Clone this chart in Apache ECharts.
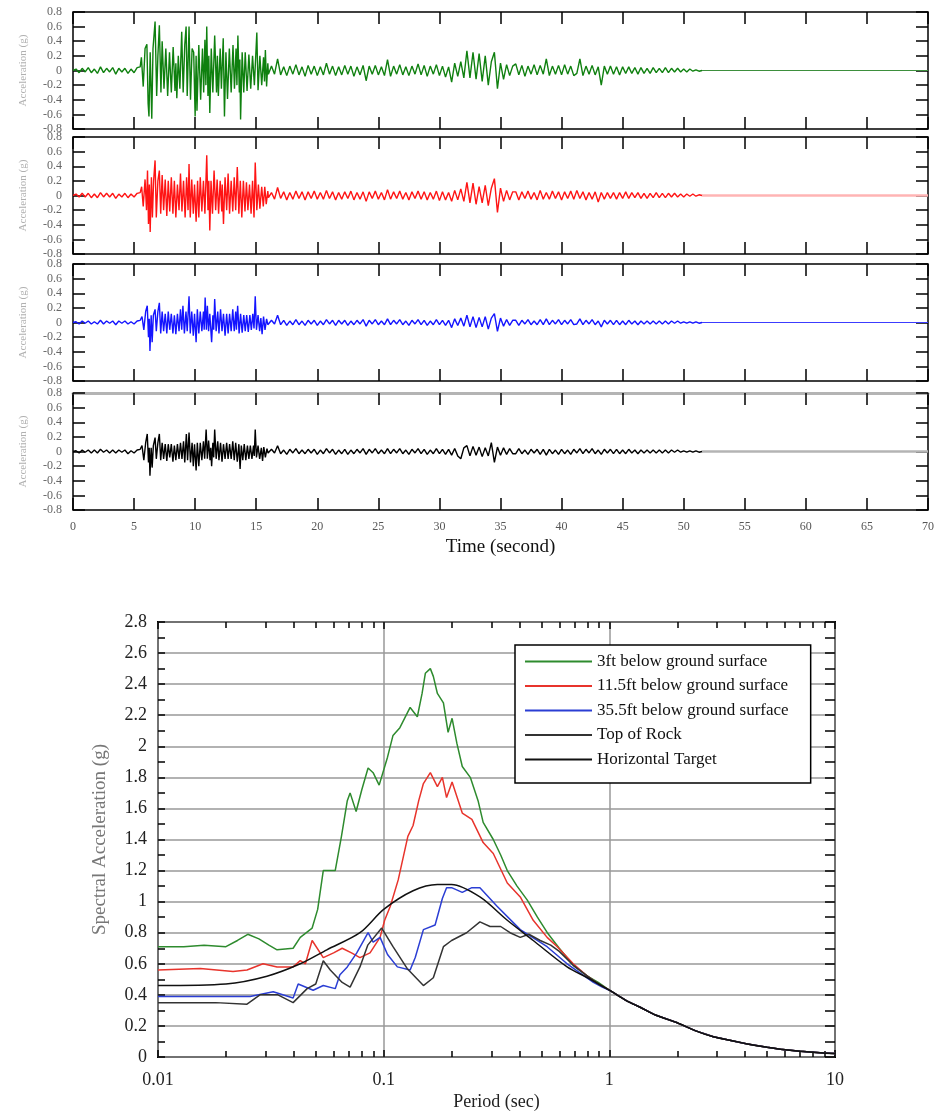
<!DOCTYPE html>
<html>
<head>
<meta charset="utf-8">
<title>Acceleration histories and response spectra</title>
<script src="https://cdn.jsdelivr.net/npm/echarts@6.0.0/dist/echarts.min.js"></script>
<style>
  html, body { margin: 0; padding: 0; background: #fff; }
  #chart { width: 938px; height: 1114px; }
</style>
</head>
<body>
<div id="chart"></div>
<script>
// ---- time histories (g) ----
// quiet part before the strong motion and the coda are sampled every 0.25 s,
// the strong part (5.5 - 16 s) is kept as [time, acceleration] pairs
const STEP = 0.25;
const PRE_START = 0;
const CODA_START = 16.25;
const END_TIME = 70;

const greenPre = [0, 0.02, -0.03, 0.03, -0.02, 0.04, -0.03, 0.02, -0.04, 0.05, -0.03, 0.03, -0.02, 0.04, -0.05, 0.03, -0.02, 0.03, -0.04, 0.02, -0.03, 0.04];
const greenStrong = [[5.5,0.05],[5.6,0.18],[5.75,-0.22],[5.9,0.3],[6.05,0.36],[6.15,-0.45],[6.22,-0.63],[6.32,0.25],[6.45,-0.66],[6.55,0.3],[6.72,0.67],[6.85,-0.35],[6.95,0.2],[7.07,0.62],[7.2,-0.3],[7.3,0.4],[7.45,-0.25],[7.6,0.3],[7.75,-0.35],[7.9,0.25],[8.05,-0.3],[8.2,0.32],[8.35,-0.28],[8.42,0.1],[8.5,-0.38],[8.62,0.2],[8.75,-0.25],[8.9,0.53],[9.02,-0.3],[9.15,0.35],[9.26,0.6],[9.35,-0.35],[9.5,0.6],[9.62,-0.4],[9.75,0.3],[9.88,0.25],[10.0,-0.63],[10.08,0.2],[10.15,-0.55],[10.3,0.35],[10.45,-0.4],[10.6,0.3],[10.7,-0.3],[10.8,0.42],[10.88,-0.2],[10.95,0.6],[11.05,-0.35],[11.12,0.2],[11.2,-0.58],[11.32,0.3],[11.45,-0.3],[11.6,0.48],[11.75,-0.3],[11.82,0.2],[11.9,-0.35],[12.05,0.3],[12.15,-0.25],[12.3,0.44],[12.4,-0.63],[12.52,0.25],[12.65,-0.39],[12.8,0.3],[12.95,-0.3],[13.1,0.35],[13.22,-0.25],[13.35,0.3],[13.42,-0.2],[13.5,0.48],[13.62,-0.3],[13.66,0.15],[13.72,-0.67],[13.85,0.25],[13.98,-0.3],[14.1,0.25],[14.25,-0.28],[14.4,0.22],[14.55,-0.25],[14.7,0.2],[14.85,-0.2],[15.05,0.52],[15.15,-0.27],[15.3,0.2],[15.45,-0.2],[15.6,0.18],[15.68,-0.15],[15.75,0.28],[15.85,-0.22],[15.95,0.1],[16.0,-0.05]];
const greenCoda = [
  0.06,-0.05,0.16,-0.06,0.05,-0.07,0.06,-0.05,0.08,-0.06,0.05,-0.08,0.07,-0.05,0.06,-0.07,
  0.05,-0.06,0.1,-0.05,0.06,-0.07,0.05,-0.06,0.07,-0.05,0.06,-0.08,0.05,-0.06,0.07,-0.14,
  0.06,-0.05,0.07,-0.06,0.05,-0.07,0.15,-0.08,0.06,-0.05,0.08,-0.06,0.05,-0.07,0.06,-0.05,
  0.09,-0.06,0.07,-0.08,0.06,-0.05,0.08,-0.07,0.06,-0.09,0.05,-0.16,0.1,-0.08,0.12,-0.1,
  0.27,-0.1,0.25,-0.12,0.23,-0.15,0.2,-0.2,0.12,0.25,-0.25,0.1,-0.12,0.08,-0.07,0.06,
  0.09,-0.06,0.07,-0.08,0.06,-0.05,0.08,-0.06,0.07,-0.05,0.16,-0.07,0.06,-0.05,0.07,-0.06,
  0.08,-0.05,0.06,-0.07,-0.04,0.16,-0.07,0.06,-0.05,0.07,-0.06,0.05,-0.2,0.06,-0.05,0.06,
  -0.05,0.05,-0.06,0.05,-0.04,0.05,-0.04,0.04,-0.05,0.04,-0.04,0.03,-0.04,0.04,-0.03,0.03,
  -0.03,0.04,-0.03,0.03,-0.02,0.03,-0.02,0.02,-0.02,0.02,-0.01,0.01,-0.01,0];

const redPre = [0, 0.02, -0.02, 0.03, -0.02, 0.03, -0.03, 0.02, -0.03, 0.04, -0.02, 0.03, -0.02, 0.03, -0.04, 0.02, -0.02, 0.03, -0.03, 0.02, -0.02, 0.03];
const redStrong = [[5.5,0.04],[5.62,0.12],[5.75,-0.15],[5.9,0.22],[6.02,-0.2],[6.1,0.34],[6.18,-0.39],[6.25,0.15],[6.32,-0.5],[6.42,0.25],[6.5,-0.3],[6.6,0.2],[6.72,0.48],[6.82,-0.3],[6.95,0.2],[7.07,0.34],[7.18,-0.25],[7.3,0.28],[7.42,-0.2],[7.55,0.22],[7.68,-0.28],[7.8,0.2],[7.92,-0.22],[8.05,0.25],[8.18,-0.25],[8.3,0.2],[8.42,-0.3],[8.55,0.15],[8.68,-0.2],[8.8,0.3],[8.92,-0.22],[9.05,0.2],[9.18,-0.3],[9.3,0.25],[9.42,-0.2],[9.5,0.43],[9.6,-0.3],[9.72,0.22],[9.85,-0.25],[9.95,0.15],[10.08,-0.36],[10.2,0.2],[10.3,-0.3],[10.42,0.25],[10.55,-0.22],[10.68,0.2],[10.8,-0.25],[10.95,0.55],[11.05,-0.2],[11.12,0.2],[11.2,-0.48],[11.3,0.2],[11.42,-0.25],[11.55,0.34],[11.68,-0.2],[11.8,0.22],[11.92,-0.25],[12.05,0.2],[12.18,-0.22],[12.22,0.15],[12.32,-0.39],[12.45,0.25],[12.58,-0.2],[12.7,0.3],[12.82,-0.25],[12.95,0.2],[13.08,-0.22],[13.2,0.25],[13.32,-0.2],[13.45,0.39],[13.58,-0.25],[13.7,0.2],[13.82,-0.3],[13.95,0.2],[14.08,-0.22],[14.2,0.18],[14.32,-0.2],[14.45,0.15],[14.58,-0.25],[14.7,0.2],[14.82,-0.3],[14.92,0.45],[15.05,-0.2],[15.18,0.15],[15.3,-0.18],[15.45,0.12],[15.58,-0.15],[15.7,0.12],[15.82,-0.12],[15.95,0.06],[16.0,-0.03]];
const redCoda = [
  0.04,-0.05,0.11,-0.04,0.05,-0.06,0.04,-0.05,0.06,-0.04,0.05,-0.06,0.05,-0.04,0.06,-0.05,
  0.04,-0.05,0.07,-0.04,0.05,-0.06,0.04,-0.05,0.05,-0.04,0.06,-0.06,0.04,-0.05,0.05,-0.08,
  0.05,-0.04,0.06,-0.05,0.04,-0.06,0.08,-0.05,0.05,-0.04,0.06,-0.05,0.04,-0.06,0.05,-0.04,
  0.06,-0.05,0.05,-0.06,0.04,-0.05,0.06,-0.07,0.05,-0.06,0.04,-0.08,0.07,-0.06,0.09,-0.08,
  0.18,-0.1,0.17,-0.12,0.12,-0.1,0.14,-0.14,0.1,0.23,-0.23,0.1,-0.08,0.07,-0.06,0.05,
  0.05,-0.06,0.05,-0.04,0.06,-0.05,0.04,-0.06,0.07,-0.05,0.04,-0.05,0.06,-0.04,0.05,-0.06,
  0.05,-0.04,0.06,-0.05,0.07,-0.04,0.05,-0.06,0.04,-0.05,0.05,-0.09,0.04,-0.05,0.04,-0.04,
  0.04,-0.05,0.04,-0.04,0.05,-0.04,0.04,-0.03,0.04,-0.04,0.03,-0.04,0.03,-0.03,0.04,-0.03,
  0.03,-0.03,0.03,-0.02,0.03,-0.02,0.02,-0.02,0.02,-0.01,0.02,-0.01,0.01,0];

const bluePre = [0, 0.01, -0.02, 0.02, -0.01, 0.02, -0.02, 0.01, -0.02, 0.03, -0.02, 0.02, -0.01, 0.02, -0.03, 0.02, -0.01, 0.02, -0.02, 0.01, -0.02, 0.02];
const blueStrong = [[5.5,0.03],[5.65,0.08],[5.8,-0.1],[5.95,0.15],[6.08,0.23],[6.18,-0.2],[6.24,0.05],[6.3,-0.39],[6.4,0.1],[6.48,-0.27],[6.58,0.1],[6.72,0.18],[6.82,-0.12],[6.95,0.15],[7.07,0.27],[7.18,-0.15],[7.3,0.15],[7.42,-0.12],[7.55,0.12],[7.68,-0.15],[7.8,0.15],[7.92,-0.1],[8.05,0.12],[8.18,-0.15],[8.3,0.1],[8.42,-0.16],[8.55,0.12],[8.68,-0.12],[8.8,0.18],[8.9,-0.1],[9.0,0.23],[9.12,-0.15],[9.25,0.15],[9.35,-0.12],[9.5,0.36],[9.6,-0.15],[9.72,0.15],[9.85,-0.18],[9.95,0.12],[10.08,-0.27],[10.18,0.18],[10.3,-0.15],[10.42,0.15],[10.55,-0.12],[10.68,0.15],[10.74,-0.1],[10.82,0.34],[10.92,-0.1],[11.0,0.23],[11.1,-0.12],[11.2,0.12],[11.35,-0.27],[11.45,0.1],[11.52,-0.1],[11.6,0.32],[11.72,-0.12],[11.85,0.15],[11.95,-0.15],[12.08,0.18],[12.2,-0.12],[12.32,0.12],[12.45,-0.18],[12.58,0.12],[12.7,-0.15],[12.82,0.12],[12.95,-0.12],[13.08,0.18],[13.2,-0.12],[13.32,0.15],[13.38,-0.1],[13.48,0.23],[13.6,-0.15],[13.72,0.12],[13.85,-0.14],[13.98,0.1],[14.1,-0.12],[14.22,0.1],[14.35,-0.13],[14.48,0.1],[14.6,-0.1],[14.72,0.12],[14.82,-0.08],[14.92,0.36],[15.02,-0.1],[15.15,0.1],[15.28,-0.12],[15.38,0.06],[15.48,-0.16],[15.6,0.08],[15.72,-0.1],[15.85,0.05],[15.95,-0.03]];
const blueCoda = [
  0.03,-0.02,0.1,-0.03,0.03,-0.04,0.02,-0.03,0.04,-0.03,0.02,-0.04,0.03,-0.02,0.03,-0.04,
  0.02,-0.03,0.04,-0.02,0.03,-0.04,0.03,-0.02,0.03,-0.04,0.02,-0.03,0.03,-0.02,0.04,-0.05,
  0.03,-0.02,0.04,-0.03,0.02,-0.03,0.05,-0.03,0.03,-0.02,0.04,-0.03,0.02,-0.04,0.03,-0.02,
  0.04,-0.03,0.03,-0.04,0.02,-0.03,0.04,-0.03,0.03,-0.04,0.03,-0.07,0.05,-0.04,0.06,-0.05,
  0.1,-0.06,0.08,-0.07,0.07,-0.06,0.08,-0.09,0.06,0.12,-0.12,0.06,-0.05,0.04,-0.04,0.03,
  0.03,-0.04,0.03,-0.02,0.04,-0.03,0.02,-0.03,0.04,-0.03,0.05,-0.03,0.03,-0.02,0.04,-0.03,
  0.03,-0.02,0.04,-0.03,-0.02,0.05,-0.03,0.03,-0.02,0.04,-0.03,0.02,-0.06,0.03,-0.02,0.03,
  -0.03,0.03,-0.03,0.02,-0.03,0.03,-0.02,0.02,-0.03,0.02,-0.02,0.02,-0.02,0.02,-0.02,0.02,
  -0.02,0.02,-0.02,0.02,-0.01,0.02,-0.01,0.01,-0.01,0.01,-0.01,0.01,-0.01,0];

const blackPre = [0, 0.01, -0.02, 0.02, -0.01, 0.02, -0.02, 0.02, -0.02, 0.03, -0.01, 0.02, -0.02, 0.02, -0.02, 0.02, -0.01, 0.02, -0.03, 0.01, -0.02, 0.02];
const blackStrong = [[5.5,0.03],[5.65,0.08],[5.8,-0.12],[5.95,0.12],[6.08,0.24],[6.18,-0.15],[6.24,0.05],[6.3,-0.33],[6.4,0.05],[6.48,-0.22],[6.58,0.08],[6.72,0.19],[6.82,-0.1],[6.95,0.12],[7.07,0.24],[7.18,-0.12],[7.3,0.12],[7.42,-0.1],[7.55,0.1],[7.68,-0.13],[7.8,0.1],[7.92,-0.08],[8.05,0.1],[8.18,-0.14],[8.3,0.08],[8.42,-0.12],[8.55,0.1],[8.68,-0.1],[8.8,0.12],[8.92,-0.1],[9.05,0.14],[9.15,-0.15],[9.28,0.24],[9.38,-0.12],[9.5,0.26],[9.62,-0.15],[9.75,0.12],[9.85,-0.2],[9.95,0.1],[10.08,-0.26],[10.18,0.12],[10.3,-0.2],[10.42,0.12],[10.55,-0.12],[10.68,0.14],[10.78,-0.1],[10.9,0.3],[11.0,-0.1],[11.1,0.15],[11.22,-0.12],[11.28,0.05],[11.35,-0.2],[11.45,0.12],[11.52,-0.08],[11.6,0.3],[11.72,-0.1],[11.85,0.14],[11.95,-0.12],[12.08,0.12],[12.2,-0.14],[12.32,0.1],[12.45,-0.1],[12.58,0.12],[12.7,-0.1],[12.82,0.1],[12.95,-0.1],[13.08,0.14],[13.2,-0.12],[13.32,0.12],[13.45,-0.14],[13.58,0.1],[13.68,-0.24],[13.78,0.08],[13.9,-0.12],[14.02,0.1],[14.15,-0.12],[14.28,0.08],[14.4,-0.1],[14.52,0.08],[14.65,-0.1],[14.78,0.08],[14.84,-0.06],[14.92,0.3],[15.02,-0.08],[15.15,0.08],[15.28,-0.1],[15.42,0.05],[15.52,-0.13],[15.62,0.06],[15.75,-0.08],[15.88,0.04],[15.97,-0.02]];
const blackCoda = [
  0.03,-0.02,0.08,-0.03,0.02,-0.04,0.03,-0.02,0.04,-0.03,0.02,-0.03,0.03,-0.02,0.03,-0.04,
  0.02,-0.03,0.04,-0.02,0.03,-0.04,0.02,-0.03,0.03,-0.04,0.02,-0.03,0.03,-0.02,0.04,-0.04,
  0.03,-0.02,0.04,-0.03,0.02,-0.03,0.04,-0.03,0.03,-0.02,0.04,-0.03,0.02,-0.04,0.03,-0.02,
  0.04,-0.03,0.03,-0.04,0.02,-0.03,0.04,-0.03,0.03,-0.04,0.03,-0.05,0.04,-0.06,-0.1,0.05,
  0.08,-0.06,0.07,-0.05,0.06,-0.07,0.05,-0.06,0.12,-0.15,0.06,-0.05,0.05,-0.04,0.04,-0.03,
  -0.03,0.04,-0.03,0.02,-0.04,0.03,-0.02,0.03,-0.04,0.03,-0.05,0.03,-0.03,0.02,-0.04,0.03,
  -0.03,0.02,-0.04,0.03,-0.02,0.04,-0.03,0.03,-0.02,0.04,-0.03,0.02,-0.04,0.03,-0.02,0.03,
  -0.03,0.03,-0.03,0.02,-0.03,0.03,-0.02,0.02,-0.03,0.02,-0.02,0.02,-0.02,0.02,-0.02,0.02,
  -0.02,0.02,-0.02,0.02,-0.01,0.02,-0.01,0.01,-0.01,0.01,-0.01,0.01,-0.01,0];

// ---- response spectra: [period (s), spectral acceleration (g)] ----
const spectrumTail = [[1.2,0.36],[1.37,0.32],[1.6,0.27],[2.0,0.22],[2.4,0.17],[2.89,0.13],[3.5,0.105],[4.09,0.084],[5.0,0.063],[5.73,0.05],[7.0,0.037],[8.9,0.026],[10,0.022]];
const spec3ft = [[0.01,0.71],[0.013,0.71],[0.016,0.72],[0.02,0.71],[0.0225,0.75],[0.025,0.79],[0.028,0.76],[0.031,0.72],[0.0337,0.69],[0.0397,0.70],[0.0427,0.77],[0.0482,0.83],[0.051,0.95],[0.054,1.20],[0.061,1.20],[0.065,1.42],[0.069,1.65],[0.071,1.70],[0.0755,1.58],[0.08,1.72],[0.0853,1.86],[0.0898,1.83],[0.0955,1.75],[0.104,1.93],[0.110,2.07],[0.118,2.12],[0.131,2.25],[0.141,2.19],[0.148,2.34],[0.153,2.47],[0.161,2.50],[0.166,2.45],[0.173,2.34],[0.184,2.28],[0.193,2.09],[0.201,2.18],[0.211,2.02],[0.223,1.87],[0.242,1.80],[0.262,1.65],[0.276,1.51],[0.306,1.40],[0.33,1.30],[0.353,1.20],[0.39,1.10],[0.433,1.01],[0.48,0.90],[0.531,0.80],[0.6,0.70],[0.692,0.59],[0.8,0.52],[0.893,0.48],[1.0,0.43]];
const spec11ft = [[0.01,0.56],[0.0154,0.57],[0.0215,0.55],[0.0248,0.56],[0.0292,0.60],[0.0337,0.58],[0.0397,0.58],[0.0427,0.62],[0.045,0.60],[0.0482,0.75],[0.054,0.64],[0.06,0.67],[0.0655,0.70],[0.072,0.67],[0.0785,0.64],[0.087,0.67],[0.0964,0.77],[0.101,0.88],[0.107,0.97],[0.116,1.14],[0.128,1.42],[0.135,1.49],[0.143,1.65],[0.15,1.76],[0.161,1.83],[0.173,1.74],[0.182,1.80],[0.19,1.67],[0.201,1.77],[0.223,1.57],[0.246,1.53],[0.276,1.38],[0.306,1.31],[0.353,1.12],[0.403,1.03],[0.46,0.88],[0.53,0.77],[0.588,0.71],[0.692,0.60],[0.8,0.52],[0.893,0.47],[1.0,0.43]];
const spec35ft = [[0.01,0.39],[0.015,0.39],[0.02,0.39],[0.0256,0.39],[0.0324,0.42],[0.0397,0.38],[0.0418,0.47],[0.0487,0.43],[0.054,0.46],[0.061,0.44],[0.064,0.53],[0.069,0.58],[0.076,0.67],[0.0853,0.80],[0.0898,0.74],[0.0964,0.77],[0.104,0.66],[0.115,0.58],[0.131,0.56],[0.138,0.64],[0.15,0.82],[0.169,0.85],[0.182,1.02],[0.19,1.09],[0.2,1.09],[0.223,1.06],[0.246,1.09],[0.267,1.09],[0.318,0.97],[0.403,0.82],[0.53,0.71],[0.65,0.60],[0.85,0.48],[0.93,0.45],[1.0,0.43]];
const specRock = [[0.01,0.35],[0.018,0.35],[0.0248,0.34],[0.0283,0.40],[0.034,0.40],[0.0397,0.35],[0.0458,0.44],[0.05,0.47],[0.054,0.62],[0.058,0.56],[0.0655,0.48],[0.071,0.45],[0.0785,0.58],[0.085,0.72],[0.098,0.83],[0.11,0.71],[0.127,0.57],[0.15,0.46],[0.166,0.51],[0.184,0.71],[0.2,0.75],[0.233,0.80],[0.267,0.87],[0.296,0.84],[0.33,0.84],[0.363,0.80],[0.403,0.77],[0.44,0.79],[0.494,0.75],[0.55,0.72],[0.6,0.68],[0.692,0.59],[0.8,0.52],[0.893,0.47],[1.0,0.43]];
const specTarget = [[0.01,0.46],[0.02,0.47],[0.0304,0.52],[0.0427,0.60],[0.056,0.69],[0.0785,0.80],[0.1,0.95],[0.135,1.07],[0.173,1.11],[0.2,1.11],[0.267,1.03],[0.353,0.88],[0.46,0.75],[0.65,0.58],[0.8,0.51],[1.0,0.43]];

const SERIF = "'Liberation Serif', 'DejaVu Serif', serif";

function buildTrace(pre, strong, coda) {
  const pts = pre.map((v, i) => [PRE_START + i * STEP, v]);
  strong.forEach(p => pts.push(p));
  coda.forEach((v, i) => pts.push([CODA_START + i * STEP, v]));
  return pts;
}

const panels = [
  { color: '#0f800f', tail: '#3d8f3d', tailWidth: 1, data: buildTrace(greenPre, greenStrong, greenCoda) },
  { color: '#ff1414', tail: '#ffb4b4', tailWidth: 2.5, data: buildTrace(redPre, redStrong, redCoda) },
  { color: '#1414ff', tail: '#3c3cff', tailWidth: 1, data: buildTrace(bluePre, blueStrong, blueCoda) },
  { color: '#000000', tail: '#b4b4b4', tailWidth: 2.5, data: buildTrace(blackPre, blackStrong, blackCoda) }
];
const panelTops = [12, 137, 264, 393];
const PANEL_H = 117;

const spectra = [
  { name: '3ft below ground surface', color: '#2e8b2e', data: spec3ft.concat(spectrumTail) },
  { name: '11.5ft below ground surface', color: '#e8342c', data: spec11ft.concat(spectrumTail) },
  { name: '35.5ft below ground surface', color: '#2b3ed4', data: spec35ft.concat(spectrumTail) },
  { name: 'Top of Rock', color: '#333333', data: specRock.concat(spectrumTail) },
  { name: 'Horizontal Target', color: '#111111', data: specTarget.concat(spectrumTail), smooth: 0.3 }
];

var chartDom = document.getElementById('chart');
var myChart = echarts.init(chartDom);

const grid = [], xAxis = [], yAxis = [], series = [];
const tickStyle = { color: '#000', width: 1.5 };

panels.forEach(function (p, i) {
  grid.push({ left: 73, top: panelTops[i], width: 855, height: PANEL_H, show: true,
    borderColor: '#000', borderWidth: 1.5, outerBoundsMode: 'none' });
  const last = i === 3;
  xAxis.push({
    gridIndex: i, type: 'value', min: 0, max: END_TIME, interval: 5, position: 'bottom',
    axisLine: { show: false, onZero: false },
    axisTick: { inside: true, length: 12, lineStyle: tickStyle },
    axisLabel: { show: last, margin: 11, fontSize: 12, color: '#555', fontFamily: SERIF },
    splitLine: { show: false },
    name: last ? 'Time (second)' : '', nameLocation: 'middle', nameGap: 28,
    nameTextStyle: { fontSize: 19, color: '#111', fontFamily: SERIF }
  });
  xAxis.push({
    gridIndex: i, type: 'value', min: 0, max: END_TIME, interval: 5, position: 'top',
    axisLine: { show: last, onZero: false, lineStyle: { color: '#b4b4b4', width: 3 } },
    axisTick: { inside: true, length: 12, lineStyle: tickStyle },
    axisLabel: { show: false }, splitLine: { show: false }
  });
  yAxis.push({
    gridIndex: i, type: 'value', min: -0.8, max: 0.8, interval: 0.2, position: 'left',
    axisLine: { show: false, onZero: false },
    axisTick: { inside: true, length: 12, lineStyle: tickStyle },
    axisLabel: { margin: 11, fontSize: 12, color: '#666', fontFamily: SERIF },
    splitLine: { show: false },
    name: 'Acceleration (g)', nameLocation: 'middle', nameGap: 44, nameRotate: 90,
    nameTextStyle: { fontSize: 11, color: '#b0b0b0', fontFamily: SERIF }
  });
  yAxis.push({
    gridIndex: i, type: 'value', min: -0.8, max: 0.8, interval: 0.2, position: 'right',
    axisLine: { show: false, onZero: false },
    axisTick: { inside: true, length: 12, lineStyle: tickStyle },
    axisLabel: { show: false }, splitLine: { show: false }
  });
  series.push({
    type: 'line', xAxisIndex: 2 * i, yAxisIndex: 2 * i, data: p.data,
    symbol: 'none', lineStyle: { color: p.color, width: 1.4 }, z: 3
  });
  const end = p.data[p.data.length - 1][0];
  series.push({
    type: 'line', xAxisIndex: 2 * i, yAxisIndex: 2 * i, data: [[end, 0], [END_TIME, 0]],
    symbol: 'none', lineStyle: { color: p.tail, width: p.tailWidth }, z: 2
  });
});

// response spectra chart
const minorStyle = { color: '#000', width: 1.5 };
grid.push({ left: 158, top: 622, width: 677, height: 435, show: true,
  borderColor: '#000', borderWidth: 2, outerBoundsMode: 'none' });
xAxis.push({
  gridIndex: 4, type: 'log', logBase: 10, min: 0.01, max: 10, position: 'bottom',
  axisLine: { show: false, onZero: false },
  axisTick: { inside: true, length: 7, lineStyle: tickStyle },
  minorTick: { show: true, splitNumber: 9, length: 6, lineStyle: minorStyle },
  axisLabel: { margin: 14, fontSize: 18, color: '#222', fontFamily: SERIF },
  splitLine: { show: true, lineStyle: { color: '#999', width: 1.5 } },
  name: 'Period (sec)', nameLocation: 'middle', nameGap: 36,
  nameTextStyle: { fontSize: 18, color: '#222', fontFamily: SERIF }
});
xAxis.push({
  gridIndex: 4, type: 'log', logBase: 10, min: 0.01, max: 10, position: 'top',
  axisLine: { show: false, onZero: false },
  axisTick: { inside: true, length: 7, lineStyle: tickStyle },
  minorTick: { show: true, splitNumber: 9, length: 6, lineStyle: minorStyle },
  axisLabel: { show: false }, splitLine: { show: false }
});
yAxis.push({
  gridIndex: 4, type: 'value', min: 0, max: 2.8, interval: 0.2, position: 'left',
  axisLine: { show: false, onZero: false },
  axisTick: { inside: true, length: 7, lineStyle: tickStyle },
  minorTick: { show: true, splitNumber: 2, length: 7, lineStyle: minorStyle },
  axisLabel: { margin: 11, fontSize: 18, color: '#222', fontFamily: SERIF },
  splitLine: { show: true, lineStyle: { color: '#999', width: 1.5 } },
  name: 'Spectral Acceleration (g)', nameLocation: 'middle', nameGap: 48, nameRotate: 90,
  nameTextStyle: { fontSize: 19, color: '#777', fontFamily: SERIF }
});
yAxis.push({
  gridIndex: 4, type: 'value', min: 0, max: 2.8, interval: 0.2, position: 'right',
  axisLine: { show: false, onZero: false },
  axisTick: { inside: true, length: 10, lineStyle: tickStyle },
  minorTick: { show: true, splitNumber: 2, length: 10, lineStyle: minorStyle },
  axisLabel: { show: false }, splitLine: { show: false }
});
spectra.forEach(function (s) {
  series.push({
    name: s.name, type: 'line', xAxisIndex: 8, yAxisIndex: 8, data: s.data,
    symbol: 'none', smooth: s.smooth || false,
    lineStyle: { color: s.color, width: 1.5 }, itemStyle: { color: s.color }, z: 3
  });
});

var option = {
  animation: false,
  backgroundColor: '#fff',
  grid: grid,
  xAxis: xAxis,
  yAxis: yAxis,
  legend: {
    data: spectra.map(s => s.name),
    orient: 'vertical', left: 515, top: 645,
    icon: 'rect', itemWidth: 67, itemHeight: 2, itemGap: 7.5,
    padding: [8, 22, 15, 10],
    borderColor: '#000', borderWidth: 1.5, backgroundColor: '#fff',
    textStyle: { fontFamily: SERIF, fontSize: 17, color: '#111' },
    z: 10
  },
  series: series
};

option && myChart.setOption(option);
</script>
</body>
</html>
